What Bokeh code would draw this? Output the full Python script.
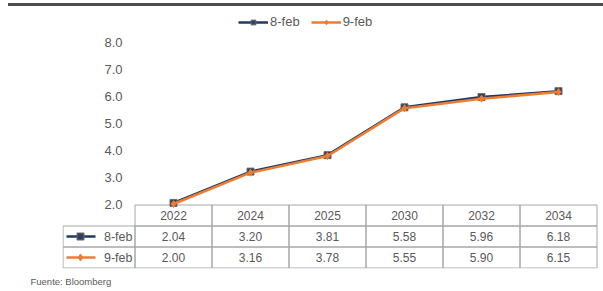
from bokeh.plotting import figure
from bokeh.models import Range1d, FixedTicker, Legend, LegendItem, Title, Div, NumeralTickFormatter
from bokeh.layouts import column
from bokeh.embed import file_html
from bokeh.resources import INLINE
from bokeh.core.properties import value

# ---------------- data ----------------
years = ["2022", "2024", "2025", "2030", "2032", "2034"]
feb8 = [2.04, 3.20, 3.81, 5.58, 5.96, 6.18]
feb9 = [2.00, 3.16, 3.78, 5.55, 5.90, 6.15]
series_names = ["8-feb", "9-feb"]
y_ticks = [2, 3, 4, 5, 6, 7, 8]
source_note = "Fuente: Bloomberg"

# ---------------- style / layout ----------------
FONT = "Liberation Sans"
TXT = "#595959"
NAVY = "#1f3864"
ORANGE = "#ed7d31"
GRID = "#a6a6a6"
PX_Y = 27.0       # pixels per unit on value axis
COL_PX = 77.0     # pixels per category column
ROW_PX = 21.0     # table row height
W = 603
FL, FR = 62, 598  # frame left / right (page px)
C0 = 173          # centre of first category (page px)
BASE = 203.5      # page y of value 2.0
TOPLINE = 204.5   # page y of table top line
FIG_TOP, FRAME_BOT, PAGE_H = 6, 268, 291

idx = list(range(len(years)))

def px2x(px):
    return (px - C0) / COL_PX

# ---------------- top rule ----------------
bar = Div(text="", width=595, height=3, margin=(3, 0, 0, 8),
          styles={"background-color": "#4d4d4d"})

# ---------------- chart + table in one figure ----------------
v_top = 2 + (BASE - FIG_TOP) / PX_Y
v_bot = 2 - (FRAME_BOT - BASE) / PX_Y
r_top = 3 + (TOPLINE - FIG_TOP) / ROW_PX
r_bot = 3 - (FRAME_BOT - TOPLINE) / ROW_PX

p = figure(width=W, height=PAGE_H - FIG_TOP, output_backend="svg", toolbar_location=None,
           x_range=Range1d((FL - C0) / COL_PX, (FR - C0) / COL_PX),
           y_range=Range1d(v_bot, v_top),
           x_axis_location=None,
           min_border_left=FL, min_border_right=W - FR, min_border_top=0,
           min_border_bottom=PAGE_H - FRAME_BOT,
           outline_line_color=None)
p.extra_y_ranges = {"tbl": Range1d(r_bot, r_top)}
p.grid.visible = False

ax = p.yaxis[0]
ax.ticker = FixedTicker(ticks=y_ticks)
ax.formatter = NumeralTickFormatter(format="0.0")
ax.axis_line_color = None
ax.major_tick_line_color = None
ax.minor_tick_line_color = None
ax.major_label_standoff = -66
ax.major_label_text_font = FONT
ax.major_label_text_font_size = "13px"
ax.major_label_text_color = TXT

# table grid
for row_y in (2.5, 1.5, 0.5):
    p.rect(idx, [row_y] * len(idx), width=1, height=1, fill_color=None, line_color=GRID,
           line_width=1, y_range_name="tbl")
hw = 72 / COL_PX
p.rect([-0.5 - hw / 2] * 2, [1.5, 0.5], width=hw, height=1, fill_color=None, line_color=GRID,
       line_width=1, y_range_name="tbl")

tfont = dict(text_font=value(FONT), text_font_size="12px", text_color=TXT,
             text_align="center", text_baseline="middle", y_range_name="tbl")
p.text(idx, [2.5] * len(idx), text=years, **tfont)
p.text(idx, [1.5] * len(idx), text=["%.2f" % v for v in feb8], **tfont)
p.text(idx, [0.5] * len(idx), text=["%.2f" % v for v in feb9], **tfont)

rows_y = [1.5, 0.5]
p.text([px2x(132)] * 2, rows_y, text=series_names, text_font=value(FONT), text_font_size="12.5px",
       text_color=TXT, text_align="right", text_baseline="middle", y_range_name="tbl")
p.segment([px2x(66)] * 2, rows_y, [px2x(95)] * 2, rows_y, line_color=[NAVY, ORANGE], line_width=2.5,
          y_range_name="tbl")
p.scatter([px2x(80)], [rows_y[0]], marker="square", size=7, fill_color="#33405a", line_color="#6b6b7a",
          y_range_name="tbl")
p.scatter([px2x(80)], [rows_y[1]], marker="diamond", size=7, fill_color=ORANGE, line_color=ORANGE,
          y_range_name="tbl")

# series
l8 = p.line(idx, feb8, line_color=NAVY, line_width=2.5)
m8 = p.scatter(idx, feb8, marker="square", size=7, fill_color="#33405a", line_color="#6b6b7a")
l9 = p.line(idx, feb9, line_color=ORANGE, line_width=2.5)
m9 = p.scatter(idx, feb9, marker="diamond", size=7, fill_color=ORANGE, line_color=ORANGE)

legend = Legend(items=[LegendItem(label=series_names[0], renderers=[l8, m8]),
                       LegendItem(label=series_names[1], renderers=[l9, m9])],
                orientation="horizontal", location=(238 - FL, FRAME_BOT - 29),
                border_line_color=None, background_fill_alpha=0,
                padding=0, margin=0, spacing=11, glyph_width=30, glyph_height=12,
                label_height=12, label_standoff=2,
                label_text_font=FONT, label_text_font_size="13px", label_text_color=TXT)
p.add_layout(legend, "center")

p.add_layout(Title(text=source_note, align="left", offset=30 - FL, text_font=FONT,
                   text_font_size="9.5px", text_color=TXT, text_font_style="normal",
                   standoff=10), "below")

layout = column(bar, p, spacing=0)
open("out.html", "w").write(file_html(layout, INLINE))
